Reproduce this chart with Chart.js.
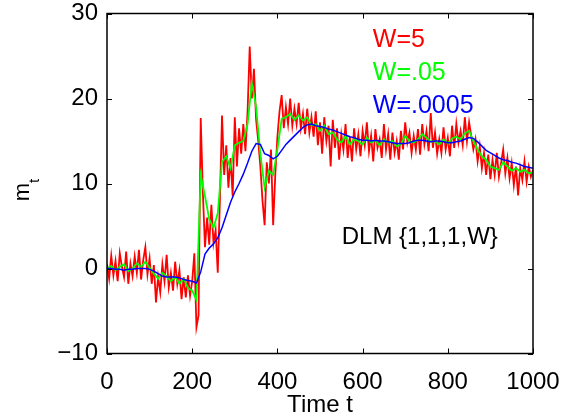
<!DOCTYPE html>
<html><head><meta charset="utf-8">
<script src="https://cdn.jsdelivr.net/npm/chart.js@4"></script>
<style>html,body{margin:0;padding:0;background:#fff}canvas{display:block}</style>
</head><body>
<canvas id="c" width="571" height="418"></canvas>
<script>
// ---- data ----
const redStep = 5;      // red series sampled every 5 time units
const smoothStep = 10;  // green & blue sampled every 10 time units
const redW5 = [
 0.5,-1.2,1.5,-0.8,0.9,-1.5,1.8,0.2,-1.0,2.0,-1.8,0.6,-0.9,1.4,-0.5,2.2,-1.3,1.0,2.5,-0.7,
 1.2,-1.8,0.4,-4.0,-1.0,-2.8,0.5,-1.5,1.6,-2.2,-0.5,-2.6,0.8,-1.8,-0.2,-3.6,-1.0,-3.4,-0.8,-3.2,
 -1.5,1.8,-6.9,-5.5,17.7,9.0,2.5,6.0,2.8,7.5,3.0,4.5,-0.5,8.0,18.0,11.0,14.5,9.5,13.0,8.5,
 17.8,12.0,16.5,13.5,17.0,13.8,18.5,26.1,20.0,23.5,17.5,15.0,12.0,8.0,5.1,12.5,10.0,14.0,5.1,11.0,
 15.5,18.5,20.4,16.5,19.0,17.0,20.0,16.8,18.8,17.0,19.5,16.5,18.2,15.8,18.8,16.0,17.8,15.5,18.5,14.5,
 17.2,13.5,17.8,15.0,16.8,12.0,17.5,14.2,16.5,12.8,15.8,14.0,17.0,13.0,15.5,12.6,16.5,14.0,15.8,13.2,
 16.2,14.5,17.2,13.8,15.6,12.6,16.4,14.2,15.2,13.0,17.0,14.0,15.8,12.8,16.0,13.6,15.0,12.8,16.2,14.0,
 17.2,14.8,16.0,13.6,15.6,14.0,16.4,13.4,17.0,14.6,16.2,13.8,18.3,14.2,16.0,13.5,15.2,13.6,16.6,14.0,
 15.4,13.2,16.8,14.2,17.0,14.8,16.2,14.5,17.8,15.0,17.2,15.6,14.0,15.2,12.6,14.4,11.8,13.6,11.0,13.4,
 10.5,12.8,11.0,13.6,10.8,12.4,14.0,11.2,13.0,10.6,12.4,9.8,12.0,8.6,11.8,10.4,12.6,10.2,12.0,10.8,11.6
];
const greenW05 = [
 0.0,0.3,-0.2,0.2,0.5,-0.3,0.0,0.6,0.2,0.8,
 0.1,-0.6,-1.2,-0.5,-0.9,-1.5,-1.0,-1.8,-1.2,-2.3,
 -2.6,-3.7,11.0,8.5,5.8,4.8,6.5,12.5,13.2,11.8,
 14.5,14.8,15.0,17.0,21.8,19.0,13.5,9.5,11.5,11.0,
 14.0,17.6,17.8,18.2,17.5,18.0,17.4,17.8,16.8,17.0,
 16.2,16.8,15.8,16.0,15.2,14.8,15.6,14.6,15.2,15.0,
 14.6,15.4,14.8,15.1,14.5,15.2,14.8,15.0,14.4,14.6,
 15.6,15.0,14.8,15.2,15.8,15.4,14.9,15.0,14.6,15.2,
 14.7,15.3,15.5,15.2,15.9,16.2,15.0,14.0,13.2,12.8,
 12.0,11.8,11.6,12.5,12.0,11.5,11.8,11.4,11.6,11.2,
 11.3
];
const blueW0005 = [
 0.0,0.0,-0.1,-0.1,-0.2,-0.1,-0.1,0.0,0.0,0.0,
 -0.1,-0.3,-0.6,-0.9,-1.0,-1.0,-1.0,-1.1,-1.3,-1.4,
 -1.5,-1.7,-0.4,1.7,2.4,2.9,3.6,4.8,6.3,7.8,
 9.0,10.0,11.1,12.4,13.8,14.7,14.6,13.5,13.3,12.9,
 13.2,13.9,14.6,15.1,15.6,16.1,16.6,16.9,17.0,16.8,
 16.7,16.6,16.4,16.3,16.1,15.9,15.7,15.5,15.4,15.2,
 15.1,15.1,15.0,15.1,15.0,15.0,14.9,14.8,14.7,14.7,
 14.7,14.8,15.0,15.1,15.1,15.0,14.9,15.0,15.0,14.9,
 14.8,14.8,14.9,15.0,15.2,15.4,15.3,14.9,14.4,13.9,
 13.6,13.3,13.0,12.8,12.7,12.5,12.4,12.2,12.0,11.9,
 11.8
];
const xTicks = [0, 200, 400, 600, 800, 1000];
const yTicks = [-10, 0, 10, 20, 30];
const seriesLabels = ['W=5', 'W=.05', 'W=.0005'];
const seriesColors = ['#ff0000', '#00ff00', '#0000ff'];
const annotationText = 'DLM {1,1,1,W}';
const xTitle = 'Time t';
const yTitleMain = 'm';
const yTitleSub = 't';

const FONT = "'Liberation Sans', Arial, Helvetica, sans-serif";
const toPts = (arr, step) => arr.map((v, i) => ({x: i * step, y: v}));

const decor = {
  id: 'decor',
  afterDraw(chart) {
    const {ctx, chartArea: a, scales: {x, y}} = chart;
    ctx.save();
    ctx.strokeStyle = '#000';
    ctx.lineWidth = 1.5;
    ctx.strokeRect(a.left, a.top, a.right - a.left, a.bottom - a.top);
    const tl = 5;
    ctx.beginPath();
    xTicks.forEach(t => {
      const px = Math.round(x.getPixelForValue(t)) + 0.5;
      ctx.moveTo(px, a.bottom); ctx.lineTo(px, a.bottom - tl);
      ctx.moveTo(px, a.top); ctx.lineTo(px, a.top + tl);
    });
    yTicks.forEach(v => {
      const py = Math.round(y.getPixelForValue(v)) + 0.5;
      ctx.moveTo(a.left, py); ctx.lineTo(a.left + tl, py);
      ctx.moveTo(a.right, py); ctx.lineTo(a.right - tl, py);
    });
    ctx.lineWidth = 1;
    ctx.stroke();

    // series labels inside the plot
    ctx.textAlign = 'left';
    ctx.textBaseline = 'alphabetic';
    ctx.font = '25px ' + FONT;
    const lx = x.getPixelForValue(624);
    const ly = [26.1, 22.2, 18.3];
    seriesLabels.forEach((s, i) => {
      ctx.fillStyle = seriesColors[i];
      ctx.fillText(s, lx, y.getPixelForValue(ly[i]));
    });
    ctx.fillStyle = '#000';
    ctx.font = '24px ' + FONT;
    ctx.fillText(annotationText, x.getPixelForValue(551), y.getPixelForValue(2.86));

    // x title
    ctx.textAlign = 'center';
    ctx.fillText(xTitle, (a.left + a.right) / 2, 412);

    // y title m_t (rotated)
    ctx.translate(28.5, 192);
    ctx.rotate(-Math.PI / 2);
    ctx.textAlign = 'center';
    ctx.font = '22px ' + FONT;
    ctx.fillText(yTitleMain, 0, 0);
    ctx.textAlign = 'left';
    ctx.font = '15px ' + FONT;
    ctx.fillText(yTitleSub, 9, 10);
    ctx.restore();
  }
};

new Chart(document.getElementById('c'), {
  type: 'line',
  data: {
    datasets: [
      {label: seriesLabels[2], data: toPts(blueW0005, smoothStep), borderColor: seriesColors[2], borderWidth: 1.5},
      {label: seriesLabels[1], data: toPts(greenW05, smoothStep), borderColor: seriesColors[1], borderWidth: 1.8},
      {label: seriesLabels[0], data: toPts(redW5, redStep), borderColor: seriesColors[0], borderWidth: 1.8}
    ]
  },
  options: {
    responsive: false,
    animation: false,
    devicePixelRatio: 1,
    elements: {point: {radius: 0}, line: {tension: 0}},
    layout: {padding: {top: 13.5, right: 38, left: 0, bottom: 0}},
    plugins: {legend: {display: false}, tooltip: {enabled: false}},
    scales: {
      x: {
        type: 'linear', min: 0, max: 1000,
        afterBuildTicks: s => { s.ticks = xTicks.map(v => ({value: v})); },
        afterFit: s => { s.height = 64.5; s.paddingLeft = 0; s.paddingRight = 0; },
        grid: {display: false, drawTicks: false},
        border: {display: false},
        ticks: {color: '#000', font: {size: 24, family: FONT}, padding: 14, maxRotation: 0,
          callback: v => String(v)}
      },
      y: {
        type: 'linear', min: -10, max: 30,
        afterBuildTicks: s => { s.ticks = yTicks.map(v => ({value: v})); },
        afterFit: s => { s.width = 107; s.paddingTop = 0; s.paddingBottom = 0; },
        grid: {display: false, drawTicks: false},
        border: {display: false},
        ticks: {color: '#000', font: {size: 24, family: FONT}, padding: 9,
          callback: v => String(v).replace('-', '\u2212')}
      }
    }
  },
  plugins: [decor]
});
</script>
</body></html>
